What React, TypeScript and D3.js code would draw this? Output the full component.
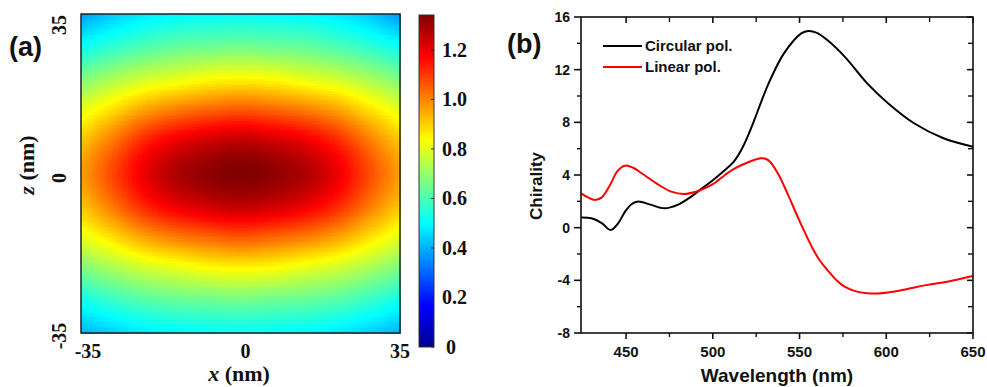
import { useMemo } from "react";
import { curveCatmullRom, line, scaleLinear } from "d3";

// ---- panel (a): field map, sampled every 7 nm (rows top→bottom: z = 35 … -35)
const fieldX = [-35, -28, -21, -14, -7, 0, 7, 14, 21, 28, 35];
const fieldZ = [35, 28, 21, 14, 7, 0, -7, -14, -21, -28, -35];
const fieldValues = [
  [0.37, 0.43, 0.47, 0.49, 0.5, 0.5, 0.5, 0.49, 0.47, 0.43, 0.36],
  [0.51, 0.56, 0.6, 0.63, 0.64, 0.65, 0.64, 0.63, 0.6, 0.56, 0.51],
  [0.66, 0.72, 0.77, 0.8, 0.83, 0.84, 0.83, 0.8, 0.77, 0.72, 0.66],
  [0.8, 0.88, 0.96, 1.01, 1.04, 1.06, 1.04, 1.01, 0.96, 0.88, 0.8],
  [0.91, 1.02, 1.13, 1.2, 1.24, 1.26, 1.24, 1.2, 1.13, 1.02, 0.91],
  [0.96, 1.08, 1.2, 1.28, 1.32, 1.34, 1.32, 1.28, 1.2, 1.08, 0.96],
  [0.91, 1.02, 1.13, 1.2, 1.24, 1.26, 1.24, 1.2, 1.13, 1.02, 0.91],
  [0.8, 0.88, 0.96, 1.01, 1.04, 1.06, 1.04, 1.01, 0.96, 0.88, 0.8],
  [0.66, 0.72, 0.77, 0.8, 0.83, 0.84, 0.83, 0.8, 0.77, 0.72, 0.66],
  [0.52, 0.57, 0.61, 0.63, 0.64, 0.65, 0.64, 0.63, 0.61, 0.57, 0.52],
  [0.4, 0.44, 0.47, 0.49, 0.5, 0.5, 0.5, 0.49, 0.47, 0.44, 0.4],
];
const axisTicksA = [-35, 0, 35];
const colorbarTicks = [0, 0.2, 0.4, 0.6, 0.8, 1.0, 1.2];
const colorbarMax = 1.341;

// ---- panel (b): chirality spectra
const circularPol: [number, number][] = [
  [424, 0.78], [430, 0.72], [436, 0.35], [441, -0.17], [445.5, 0.35], [449.4, 1.22],
  [453.3, 1.8], [457, 1.98], [464, 1.75], [472, 1.47], [480, 1.75], [488, 2.4],
  [494, 3.0], [500, 3.6], [507, 4.38], [512, 5.0], [516, 5.8], [520, 6.9],
  [524, 8.2], [528, 9.6], [533, 11.2], [541, 13.24], [551, 14.76], [555, 14.94],
  [560, 14.8], [566, 14.25], [576, 12.99], [589, 10.96], [601, 9.45], [616, 7.93],
  [633, 6.79], [650, 6.15],
];
const linearPol: [number, number][] = [
  [424, 2.61], [428, 2.3], [432, 2.1], [436, 2.3], [441, 3.3], [445, 4.3],
  [449.4, 4.71], [454, 4.55], [459, 4.13], [469, 3.24], [476, 2.74], [484, 2.56],
  [493, 2.86], [500, 3.3], [507, 4.0], [512, 4.45], [520, 4.95], [527.5, 5.27],
  [530, 5.25], [533, 5.01], [538, 4.0], [543, 2.61], [550.6, 0.33], [558, -1.69],
  [562, -2.55], [566, -3.21], [571, -3.95], [576, -4.48], [582, -4.82], [589, -4.98],
  [595, -5.0], [601, -4.93], [610, -4.72], [618, -4.48], [627, -4.28], [635, -4.1],
  [643, -3.88], [650, -3.67],
];
const wavelengthTicks = [450, 500, 550, 600, 650];
const wavelengthMinor = [475, 525, 575, 625];
const chiralityTicks = [-8, -4, 0, 4, 8, 12, 16];
const chiralityMinor = [-6, -2, 2, 6, 10, 14];

const jetStops = [0, 0.125, 0.375, 0.625, 0.875, 1];
const jetColors = ["#00008f", "#0000ff", "#00ffff", "#ffff00", "#ff0000", "#800000"];

const serif = "'Liberation Serif', 'Times New Roman', serif";
const sans = "'Liberation Sans', Arial, sans-serif";

function cubic(p0: number, p1: number, p2: number, p3: number, t: number) {
  return p1 + 0.5 * t * (p2 - p0 + t * (2 * p0 - 5 * p1 + 4 * p2 - p3 + t * (3 * (p1 - p2) + p3 - p0)));
}

function sampleLine(vals: number[], u: number) {
  const n = vals.length;
  const i = Math.max(0, Math.min(n - 2, Math.floor(u)));
  const t = u - i;
  const g = (k: number) =>
    k < 0 ? 2 * vals[0] - vals[1] : k > n - 1 ? 2 * vals[n - 1] - vals[n - 2] : vals[k];
  return cubic(g(i - 1), g(i), g(i + 1), g(i + 2), t);
}

function FieldMap() {
  const xA = scaleLinear().domain([-35, 35]).range([81, 400]);
  const zA = scaleLinear().domain([-35, 35]).range([333, 14]);
  const cb = scaleLinear().domain([0, colorbarMax]).range([347, 15]);
  const jet = scaleLinear<string>()
    .domain(jetStops.map((t) => t * colorbarMax))
    .range(jetColors)
    .clamp(true);

  const colIndex = scaleLinear().domain([fieldX[0], fieldX[fieldX.length - 1]]).range([0, fieldX.length - 1]);
  const rowIndex = scaleLinear().domain([fieldZ[0], fieldZ[fieldZ.length - 1]]).range([0, fieldZ.length - 1]);

  const cells = useMemo(() => {
    const n = 128;
    const cw = (xA(35) - xA(-35)) / n;
    const ch = (zA(-35) - zA(35)) / n;
    const out: { x: number; y: number; w: number; h: number; c: string }[] = [];
    for (let j = 0; j < n; j++) {
      const zv = zA.invert(zA(35) + (j + 0.5) * ch);
      const v = rowIndex(zv);
      const column = fieldValues[0].map((_, ci) => sampleLine(fieldValues.map((r) => r[ci]), v));
      for (let i = 0; i < n; i++) {
        const xv = xA.invert(xA(-35) + (i + 0.5) * cw);
        const val = sampleLine(column, colIndex(xv));
        out.push({ x: xA(-35) + i * cw, y: zA(35) + j * ch, w: cw + 0.6, h: ch + 0.6, c: jet(val) });
      }
    }
    return out;
  }, []);

  const yLabelShift = [3, 4.5, 11];
  const xLabelShift = [7, 5, 0];

  return (
    <g>
      <defs>
        <linearGradient id="jetbar" x1="0" y1="1" x2="0" y2="0">
          {jetStops.map((t, i) => (
            <stop key={t} offset={t} stopColor={jetColors[i]} />
          ))}
        </linearGradient>
      </defs>
      <g shapeRendering="crispEdges">
        {cells.map((d, i) => (
          <rect key={i} x={d.x} y={d.y} width={d.w} height={d.h} fill={d.c} />
        ))}
      </g>
      <rect x={xA(-35)} y={zA(35)} width={xA(35) - xA(-35)} height={zA(-35) - zA(35)} fill="none" stroke="#222" strokeWidth={1.5} />

      {axisTicksA.map((t, i) => (
        <text key={`x${t}`} x={xA(t) + xLabelShift[i]} y={358} textAnchor="middle" fontFamily={serif} fontWeight="bold" fontSize={20} fill="#111">
          {t}
        </text>
      ))}
      {axisTicksA.map((t, i) => (
        <text key={`z${t}`} transform={`translate(66,${zA(t) + yLabelShift[i]}) rotate(-90)`} textAnchor="middle" fontFamily={serif} fontWeight="bold" fontSize={20} fill="#111">
          {t}
        </text>
      ))}
      <text x={239} y={381} textAnchor="middle" fontFamily={serif} fontWeight="bold" fontSize={22} fill="#111">
        <tspan fontStyle="italic">x</tspan> (nm)
      </text>
      <text transform="translate(34,165) rotate(-90)" textAnchor="middle" fontFamily={serif} fontWeight="bold" fontSize={22} fill="#111">
        <tspan fontStyle="italic">z</tspan> (nm)
      </text>
      <text x={9} y={56} fontFamily={sans} fontWeight="bold" fontSize={27} fill="#111">
        (a)
      </text>

      <rect x={419} y={cb(colorbarMax)} width={15} height={cb(0) - cb(colorbarMax)} fill="url(#jetbar)" stroke="#333" strokeWidth={1} />
      {colorbarTicks.map((t) => (
        <g key={t}>
          <line x1={431} x2={434} y1={cb(t)} y2={cb(t)} stroke="#222" strokeWidth={1} />
          <text x={t === 0 ? 446 : 442} y={cb(t)} dy="0.35em" fontFamily={serif} fontWeight="bold" fontSize={20} fill="#111">
            {t === 0 ? "0" : t.toFixed(1)}
          </text>
        </g>
      ))}
    </g>
  );
}

function Spectra() {
  const x = scaleLinear().domain([424, 650]).range([581, 973]);
  const y = scaleLinear().domain([-8, 16]).range([333, 17]);
  const path = line<[number, number]>()
    .x((d) => x(d[0]))
    .y((d) => y(d[1]))
    .curve(curveCatmullRom.alpha(0.5));
  const [x0, x1] = x.range();
  const [y0, y1] = y.range();

  return (
    <g>
      <text x={507} y={53} fontFamily={sans} fontWeight="bold" fontSize={27} fill="#111">
        (b)
      </text>
      <path d={path(circularPol) ?? ""} fill="none" stroke="#000" strokeWidth={2} />
      <path d={path(linearPol) ?? ""} fill="none" stroke="#ff0000" strokeWidth={2} />

      <rect x={x0} y={y1} width={x1 - x0} height={y0 - y1} fill="none" stroke="#111" strokeWidth={1.6} />
      {wavelengthTicks.map((t) => (
        <g key={t}>
          <line x1={x(t)} x2={x(t)} y1={y0} y2={y0 + 6} stroke="#111" strokeWidth={1.6} />
          <line x1={x(t)} x2={x(t)} y1={y1} y2={y1 + 6} stroke="#111" strokeWidth={1.6} />
          <text x={x(t)} y={357} textAnchor="middle" fontFamily={sans} fontWeight="bold" fontSize={15} fill="#111">
            {t}
          </text>
        </g>
      ))}
      {wavelengthMinor.map((t) => (
        <g key={t}>
          <line x1={x(t)} x2={x(t)} y1={y0} y2={y0 + 4} stroke="#111" strokeWidth={1.4} />
          <line x1={x(t)} x2={x(t)} y1={y1} y2={y1 + 5} stroke="#111" strokeWidth={1.4} />
        </g>
      ))}
      {chiralityTicks.map((t) => (
        <g key={t}>
          <line x1={x0 - 7} x2={x0} y1={y(t)} y2={y(t)} stroke="#111" strokeWidth={1.6} />
          <line x1={x1 - 6} x2={x1} y1={y(t)} y2={y(t)} stroke="#111" strokeWidth={1.6} />
          <text x={570} y={y(t)} dy="0.35em" textAnchor="end" fontFamily={sans} fontWeight="bold" fontSize={14} fill="#111">
            {t}
          </text>
        </g>
      ))}
      {chiralityMinor.map((t) => (
        <g key={t}>
          <line x1={x0 - 4} x2={x0} y1={y(t)} y2={y(t)} stroke="#111" strokeWidth={1.4} />
          <line x1={x1 - 5} x2={x1} y1={y(t)} y2={y(t)} stroke="#111" strokeWidth={1.4} />
        </g>
      ))}
      <text x={(x0 + x1) / 2} y={382} textAnchor="middle" fontFamily={sans} fontWeight="bold" fontSize={19} fill="#111">
        Wavelength (nm)
      </text>
      <text transform="translate(542,186) rotate(-90)" textAnchor="middle" fontFamily={sans} fontWeight="bold" fontSize={17} fill="#111">
        Chirality
      </text>

      {[
        { label: "Circular pol.", color: "#000", yy: 46 },
        { label: "Linear pol.", color: "#ff0000", yy: 67 },
      ].map((d) => (
        <g key={d.label}>
          <line x1={603} x2={642} y1={d.yy} y2={d.yy} stroke={d.color} strokeWidth={2} />
          <text x={645} y={d.yy} dy="0.36em" fontFamily={sans} fontWeight="bold" fontSize={15} fill="#111">
            {d.label}
          </text>
        </g>
      ))}
    </g>
  );
}

export default function App() {
  return (
    <svg width={987} height={387} style={{ position: "absolute", left: 0, top: 0, background: "#fff" }}>
      <FieldMap />
      <Spectra />
    </svg>
  );
}
